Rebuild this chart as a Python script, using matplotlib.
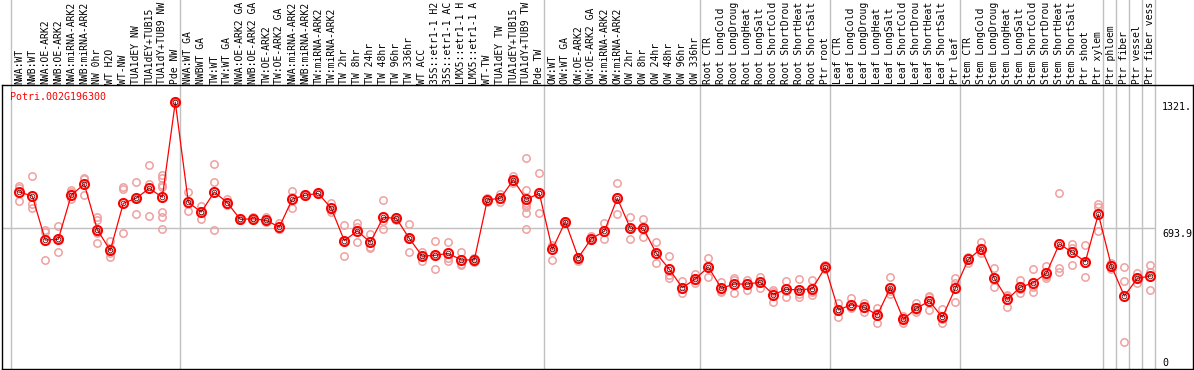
import matplotlib

matplotlib.use("Agg")
import matplotlib.pyplot as plt

RED = "#ff0000"
PINK = "#f0a0a0"
GRID = "#c0c0c0"
FONT = "DejaVu Sans Mono"

gene = "Potri.002G196300"

labels = [
    "NWA:WT", "NWB:WT", "NWA:OE-ARK2", "NWB:OE-ARK2", "NWA:miRNA-ARK2", "NWB:miRNA-ARK2",
    "NW 0hr", "WT H2O", "WT-NW", "TUA1dEY NW", "TUA1dEY+TUB15", "TUA1dY+TUB9 NW", "Pde NW",
    "NWA:WT GA", "NWBWT GA", "TW:WT", "TW:WT GA", "NWA:OE-ARK2 GA", "NWB:OE-ARK2 GA",
    "TW:OE-ARK2", "TW:OE-ARK2 GA", "NWA:miRNA-ARK2", "NWB:miRNA-ARK2", "TW:miRNA-ARK2",
    "TW:miRNA-ARK2", "TW 2hr", "TW 8hr", "TW 24hr", "TW 48hr", "TW 96hr", "TW 336hr",
    "WT ACC", "35S::etr1-1 H2", "35S::etr1-1 AC", "LMX5::etr1-1 H", "LMX5::etr1-1 A",
    "WT-TW", "TUA1dEY TW", "TUA1dEY+TUB15", "TUA1dY+TUB9 TW", "Pde TW",
    "OW:WT", "OW:WT GA", "OW:OE-ARK2", "OW:OE-ARK2 GA", "OW:miRNA-ARK2", "OW:miRNA-ARK2",
    "OW 2hr", "OW 8hr", "OW 24hr", "OW 48hr", "OW 96hr", "OW 336hr",
    "Root CTR", "Root LongCold", "Root LongDroug", "Root LongHeat", "Root LongSalt",
    "Root ShortCold", "Root ShortDrou", "Root ShortHeat", "Root ShortSalt", "Ptr root",
    "Leaf CTR", "Leaf LongCold", "Leaf LongDroug", "Leaf LongHeat", "Leaf LongSalt",
    "Leaf ShortCold", "Leaf ShortDrou", "Leaf ShortHeat", "Leaf ShortSalt", "Ptr leaf",
    "Stem CTR", "Stem LongCold", "Stem LongDroug", "Stem LongHeat", "Stem LongSalt",
    "Stem ShortCold", "Stem ShortDrou", "Stem ShortHeat", "Stem ShortSalt", "Ptr shoot",
    "Ptr xylem", "Ptr phloem", "Ptr fiber", "Ptr vessel", "Ptr fiber vess",
]

means = [
    873, 853, 636, 640, 858, 912, 687, 585, 817, 843, 891, 847, 1316,
    822, 774, 873, 820, 738, 741, 733, 700, 838, 857, 866, 792, 633, 681, 625, 748, 743,
    644, 556, 561, 570, 538, 538, 834, 842, 932, 837, 866,
    590, 727, 549, 643, 679, 842, 694, 694, 570, 492, 401, 444,
    503, 398, 419, 419, 428, 367, 393, 390, 396, 502,
    291, 317, 304, 266, 401, 245, 299, 335, 255, 398,
    541, 594, 447, 344, 403, 426, 472, 617, 575, 529, 764,
    508, 360, 447, 459,
]

reps = [
    [902, 891, 828], [950, 814, 796], [686, 677, 536], [704, 640, 575], [883, 875, 837],
    [944, 935, 857], [748, 735, 677, 669, 621], [630, 572, 554], [899, 889, 672],
    [922, 843, 763], [1006, 912, 753], [955, 940, 906, 898, 774, 751, 689], [1321, 1313, 1314],
    [871, 816, 779], [804, 781, 738], [1011, 921, 684], [840, 813, 809], [743, 738, 735],
    [751, 738, 734], [748, 733, 725], [718, 692, 690], [876, 846, 792], [862, 856, 852],
    [870, 866, 862], [817, 784, 776], [710, 633, 556], [718, 700, 625], [666, 603, 595],
    [834, 730, 689], [751, 743, 735], [715, 644, 575], [579, 557, 531], [630, 561, 493],
    [626, 546, 534], [577, 518, 513], [545, 538, 530], [842, 834, 825], [862, 838, 825],
    [954, 927, 916], [1039, 883, 817, 809, 797, 768, 690], [965, 862, 771],
    [612, 603, 538], [731, 727, 722], [554, 548, 534], [656, 640, 636], [722, 677, 640],
    [916, 848, 763], [748, 694, 640], [738, 690, 653], [625, 565, 521], [557, 464, 447],
    [434, 396, 373], [469, 441, 423],
    [548, 510, 452], [431, 383, 382], [447, 437, 373], [439, 426, 390], [455, 427, 401],
    [390, 378, 332], [436, 387, 357], [442, 372, 357], [439, 382, 367], [513, 500, 493],
    [324, 295, 255], [349, 304, 299], [327, 303, 283], [299, 275, 225], [452, 383, 370],
    [261, 246, 229], [324, 291, 283], [360, 355, 291], [294, 245, 225], [447, 423, 329],
    [554, 545, 524], [625, 585, 570], [497, 438, 406], [365, 360, 307], [439, 397, 373],
    [492, 405, 381], [508, 460, 447], [866, 497, 480], [617, 597, 513], [612, 521, 455],
    [814, 801, 682],
    [521, 512, 492], [501, 436, 135], [472, 447, 423], [513, 480, 390],
]

# group separators (column index where a new block starts)
bounds = [0, 13, 41, 53, 63, 73, 84, 85, 86, 87, 88]
yticks = [1321, 693.9, 0]
ytick_text = ["1321.", "693.9", "0"]

W, H = 1194, 370
fig = plt.figure(figsize=(W / 100, H / 100), dpi=100)
ax = fig.add_axes([2 / W, 1 / H, 1191 / W, 284 / H])
ax.set_xlim(-0.69, 90.92)
ax.set_ylim(0, 1400.7)
ax.set_xticks([])
ax.set_yticks([])
for s in ax.spines.values():
    s.set_color("black")
    s.set_linewidth(1.0)

xs = [i + 0.64 for i in range(len(means))]

# separators run up through the label strip
for b in bounds:
    ax.axvline(b, 0, 1.31, color=GRID, lw=1.0, clip_on=False, zorder=1)
ax.hlines(yticks[1], -0.69, bounds[-1], color=GRID, lw=1.0, zorder=1)

for x, r in zip(xs, reps):
    ax.plot([x] * len(r), r, "o", ms=5.3, mfc="none", mec=PINK, mew=1.1, zorder=2)

ax.plot(xs, means, "-", color=RED, lw=0.9, zorder=3)
ax.plot(xs, means, "o", ms=6.5, mfc="none", mec=RED, mew=1.5, zorder=4)
ax.plot(xs, means, "o", ms=3.4, mfc="none", mec="#300000", mew=0.5, zorder=5)

tr = ax.get_xaxis_transform()
for x, lab in zip(xs, labels):
    ax.text(x, 1.005, lab, rotation=90, ha="center", va="bottom", transform=tr,
            fontsize=7.0, family=FONT, color="black", clip_on=False)

ax.text(8 / 1191, (369 - 97) / 284, gene, transform=ax.transAxes, color=RED,
        fontsize=7.2, family=FONT, ha="left", va="center")

for v, t in zip(yticks, ytick_text):
    ax.text(88.55, v + (4 if v == 0 else -3), t, ha="left",
            va="bottom" if v == 0 else "top", fontsize=7.2, family=FONT, color="black")

fig.savefig("out.png", dpi=100)
